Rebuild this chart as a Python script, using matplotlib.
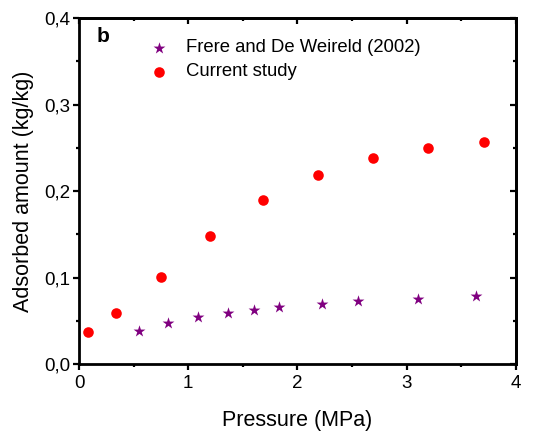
import matplotlib
matplotlib.use("Agg")
import matplotlib.pyplot as plt
from matplotlib.ticker import MultipleLocator, FuncFormatter, NullFormatter

plt.rcParams['font.family'] = ['Liberation Sans', 'DejaVu Sans']

frere_p = [0.549, 0.817, 1.086, 1.364, 1.60, 1.828, 2.224, 2.557, 3.106, 3.64]
frere_q = [0.0385, 0.0478, 0.054, 0.0593, 0.0628, 0.0659, 0.070, 0.0725, 0.0755, 0.0783]
cur_p = [0.085, 0.336, 0.748, 1.20, 1.687, 2.19, 2.69, 3.20, 3.71]
cur_q = [0.0373, 0.0593, 0.101, 0.148, 0.190, 0.219, 0.2385, 0.250, 0.2566]

fig = plt.figure(figsize=(5.54, 4.32), dpi=100)
ax = fig.add_axes([0.1426, 0.157, 0.7884, 0.801])
ax.scatter(frere_p, frere_q, marker='*', s=80, color='#800080', linewidths=0,
           label='Frere and De Weireld (2002)', zorder=3)
ax.scatter(cur_p, cur_q, marker='o', s=58, color='#ff0000', linewidths=0,
           label='Current study', zorder=3)

ax.set_xlim(0, 4)
ax.set_ylim(0, 0.4)

ax.xaxis.set_major_locator(MultipleLocator(1))
ax.xaxis.set_minor_locator(MultipleLocator(0.5))
ax.yaxis.set_major_locator(MultipleLocator(0.1))
ax.yaxis.set_minor_locator(MultipleLocator(0.05))
ax.yaxis.set_major_formatter(FuncFormatter(lambda v, p: f"{v:.1f}".replace('.', ',')))
ax.xaxis.set_major_formatter(FuncFormatter(lambda v, p: f"{v:.0f}"))
ax.tick_params(which='both', direction='out', width=1.6, labelsize=13.5, colors='black')
ax.tick_params(which='major', length=4.5)
ax.tick_params(which='minor', length=2.5)
ax.tick_params(axis='x', pad=3)
ax.tick_params(axis='y', pad=2)
for s in ax.spines.values():
    s.set_linewidth(2)

# inward ticks on top and right
top = ax.secondary_xaxis('top')
top.xaxis.set_major_locator(MultipleLocator(1))
top.xaxis.set_minor_locator(MultipleLocator(0.5))
top.xaxis.set_major_formatter(NullFormatter())
top.tick_params(which='both', direction='in', width=1.6)
top.tick_params(which='major', length=4.5)
top.tick_params(which='minor', length=2.5)
top.spines['top'].set_linewidth(2)
right = ax.secondary_yaxis('right')
right.yaxis.set_major_locator(MultipleLocator(0.1))
right.yaxis.set_minor_locator(MultipleLocator(0.05))
right.yaxis.set_major_formatter(NullFormatter())
right.tick_params(which='both', direction='in', width=1.6)
right.tick_params(which='major', length=4.5)
right.tick_params(which='minor', length=2.5)
right.spines['right'].set_linewidth(2)

ax.set_xlabel('Pressure (MPa)', fontsize=15.5, labelpad=13)
ax.set_ylabel('Adsorbed amount (kg/kg)', fontsize=15.5, labelpad=7)
ax.text(0.04, 0.975, 'b', transform=ax.transAxes, fontsize=15, fontweight='bold', va='top', ha='left')
ax.legend(loc='upper left', bbox_to_anchor=(0.14, 0.96), frameon=False, fontsize=13.3,
          handletextpad=0.9, borderaxespad=0.0, labelspacing=0.38, handlelength=1.2)

fig.savefig('out.png', dpi=100)
